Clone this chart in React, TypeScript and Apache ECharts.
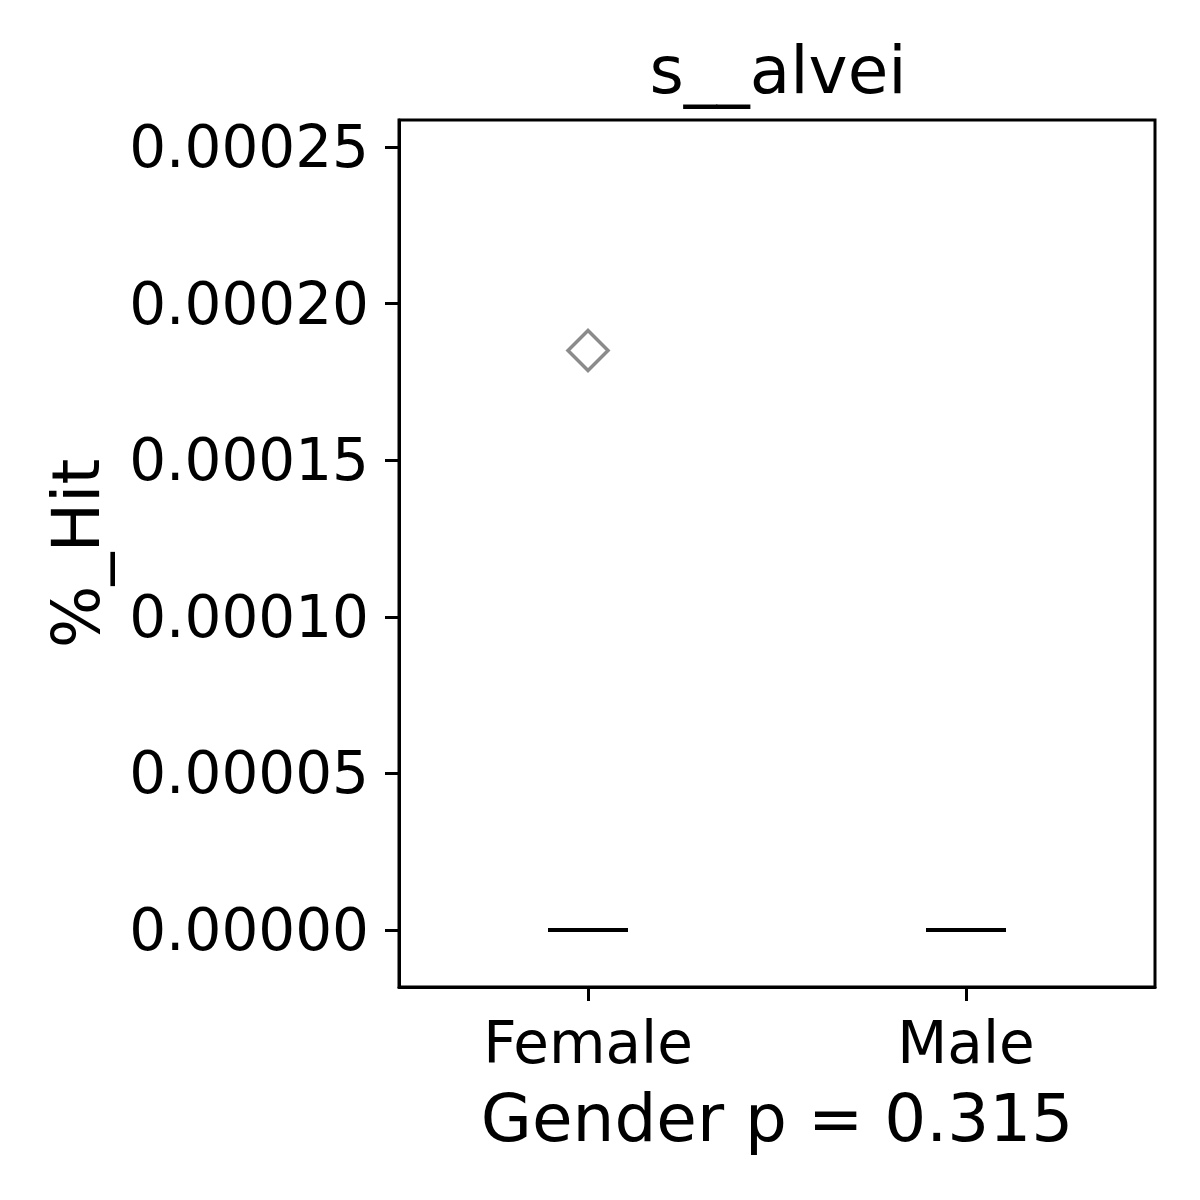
import React, { useEffect, useRef } from "react";
import * as echarts from "echarts";

const categories = ["Female", "Male"];
const medians = [0, 0];
const outliers: [string, number][] = [["Female", 0.000185]];
const yTicks = [0, 0.00005, 0.0001, 0.00015, 0.0002, 0.00025];
const titleText = "s__alvei";
const xLabel = "Gender p = 0.315";
const yLabel = "%_Hit";

export default function App() {
  const ref = useRef<HTMLDivElement>(null);
  useEffect(() => {
    const chart = echarts.init(ref.current!, null, { renderer: "svg" });
    const font = "DejaVu Sans";
    chart.setOption({
      animation: false,
      backgroundColor: "#ffffff",
      title: {
        text: titleText,
        left: 773,
        top: 32,
        textAlign: "center",
        textStyle: { fontFamily: font, fontSize: 66, fontWeight: "normal", color: "#000" },
      },
      grid: {
        left: 399,
        top: 120,
        right: 45,
        bottom: 213,
        show: true,
        borderColor: "#000",
        borderWidth: 3,
        backgroundColor: "transparent",
      },
      xAxis: {
        type: "category",
        data: categories,
        boundaryGap: true,
        name: xLabel,
        nameLocation: "middle",
        nameGap: 98,
        nameTextStyle: { fontFamily: font, fontSize: 66, color: "#000" },
        axisLine: { show: true, onZero: false, lineStyle: { color: "#000", width: 3 } },
        axisTick: { show: true, alignWithLabel: true, length: 14, lineStyle: { color: "#000", width: 3 } },
        axisLabel: { fontFamily: font, fontSize: 58, color: "#000", margin: 27 },
        splitLine: { show: false },
      },
      yAxis: {
        type: "value",
        min: -0.0000182,
        max: 0.0002586,
        name: yLabel,
        nameLocation: "middle",
        nameGap: 290,
        nameRotate: 90,
        nameTextStyle: { fontFamily: font, fontSize: 66, color: "#000" },
        axisLine: { show: true, lineStyle: { color: "#000", width: 3 } },
        axisTick: { show: true, length: 14, customValues: yTicks, lineStyle: { color: "#000", width: 3 } },
        axisLabel: {
          fontFamily: font,
          fontSize: 58,
          color: "#000",
          margin: 30,
          customValues: yTicks,
          formatter: (v: number) => v.toFixed(5),
        },
        splitLine: { show: false },
      },
      series: [
        {
          type: "custom",
          data: medians.map((m, i) => [i, m]),
          renderItem: (params: any, api: any) => {
            const p = api.coord([api.value(0), api.value(1)]);
            return {
              type: "line",
              shape: { x1: p[0] - 40, y1: p[1], x2: p[0] + 40, y2: p[1] },
              style: { stroke: "#000", lineWidth: 4 },
            };
          },
          z: 3,
        },
        {
          type: "scatter",
          data: outliers,
          symbol: "diamond",
          symbolSize: [40, 40],
          itemStyle: { color: "rgba(0,0,0,0)", borderColor: "#6e6e6e", borderWidth: 3.5 },
          z: 4,
        },
      ],
    });
    return () => chart.dispose();
  }, []);
  return (
    <div
      ref={ref}
      style={{ position: "fixed", left: 0, top: 0, width: 1200, height: 1200 }}
    />
  );
}
